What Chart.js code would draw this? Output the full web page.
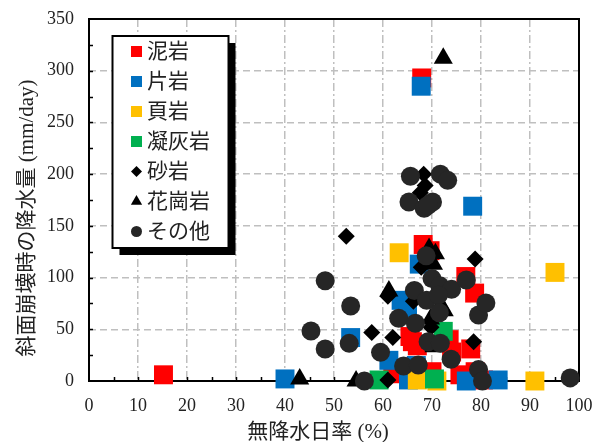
<!DOCTYPE html>
<html>
<head>
<meta charset="utf-8">
<script src="https://cdn.jsdelivr.net/npm/chart.js@4"></script>
<style>
  body { margin: 0; background: #fff; }
  #wrap { width: 601px; height: 442px; }
</style>
</head>
<body>
<div id="wrap"><canvas id="myChart" width="601" height="442"></canvas></div>
<script>
// rock types and their points [無降水日率 %, 降水量 mm/day]
const rockNames = ['泥岩', '片岩', '頁岩', '凝灰岩', '砂岩', '花崗岩', 'その他'];

const mudstone = [
  [15.2, 6], [67.9, 293], [68.2, 132], [69.6, 126], [76.9, 101], [78.7, 85],
  [77.9, 31], [65.5, 43], [67, 34], [66, 38], [73.5, 40], [74, 28],
  [75.7, 6], [78.8, 9], [70, 9], [62, 7], [80.5, 1]
];
const schist = [
  [40, 2], [67.8, 285], [78.3, 169], [67.4, 113], [63.7, 78], [65, 71],
  [53.4, 42], [61.2, 20], [66.8, 15], [65.2, 1], [77, 0], [83.5, 1]
];
const shale = [[63.3, 124], [95.1, 105], [91, 0], [67, 1], [71, 0]];
const tuff = [[59.2, 1], [70.5, 2], [72.3, 48]];
const sandstone = [
  [52.5, 140], [68.3, 200], [67.6, 182], [68.6, 189], [78.8, 118], [67.8, 110],
  [57.7, 47], [62, 42], [61, 1], [78.5, 38], [61, 82], [69.8, 52], [66.2, 77]
];
const granite = [
  [72.3, 312], [43, 2], [54.5, 0], [61.2, 87], [69.4, 128], [70.7, 123],
  [70.3, 113], [71.8, 73], [72.5, 68], [69.7, 60], [70.4, 33]
];
const others = [
  [65.6, 198], [71.7, 200], [73.2, 194], [65.3, 173], [68.4, 167], [70.1, 173],
  [69.2, 170], [68.8, 121], [48.2, 97], [53.4, 72.5], [45.3, 48.3], [48.2, 31],
  [53.1, 36.4], [59.5, 27.7], [63.2, 60.6], [66.4, 87.5], [66.6, 55.8], [70, 99],
  [71.6, 92], [74, 88.6], [77, 97.6], [68.9, 78], [71.3, 83], [71.5, 66],
  [79.5, 63.8], [81, 75.5], [69.2, 38], [71.7, 36.5], [73.9, 21], [64.2, 14.5],
  [67.2, 15.5], [79.5, 11], [80.3, 0], [56.2, 0], [98.2, 3]
];

const xTicks = [0, 10, 20, 30, 40, 50, 60, 70, 80, 90, 100];
const yTicks = [0, 50, 100, 150, 200, 250, 300, 350];

const seriesData = [mudstone, schist, shale, tuff, sandstone, granite, others];
const colors = ['#ff0000', '#0070c0', '#ffc000', '#00b050', '#000000', '#000000', '#262626'];
const styles = ['rect', 'rect', 'rect', 'rect', 'rectRot', 'triangle', 'circle'];
const radii = [13.4, 13.4, 13.4, 13.4, 8.5, 11, 9.5];
const legendRadii = [7.8, 7.8, 7.8, 7.8, 5.5, 6.5, 5.5];

const numFont = '"Liberation Serif", "Noto Sans CJK JP", serif';

const toPts = arr => arr.map(p => ({ x: p[0], y: p[1] }));

const datasets = seriesData.map((d, i) => ({
  label: rockNames[i],
  data: toPts(d),
  pointStyle: styles[i],
  pointRadius: radii[i],
  pointHoverRadius: radii[i],
  backgroundColor: colors[i],
  borderColor: colors[i],
  borderWidth: 0,
  clip: false,
  order: seriesData.length - i   // later series on top, like the original
}));

const framePlugin = {
  id: 'frame',
  beforeDatasetsDraw(chart) {
    const { ctx, chartArea: a, scales: { x, y } } = chart;
    ctx.save();
    ctx.strokeStyle = '#000';
    ctx.lineWidth = 1.5;
    ctx.beginPath();
    for (let v = 5; v < 100; v += 5) {
      const px = Math.round(x.getPixelForValue(v)) + 0.5;
      ctx.moveTo(px, a.bottom);
      ctx.lineTo(px, a.bottom - 4);
    }
    for (let v = 25; v < 350; v += 25) {
      const py = Math.round(y.getPixelForValue(v)) + 0.5;
      ctx.moveTo(a.left, py);
      ctx.lineTo(a.left + 4, py);
    }
    ctx.stroke();
    ctx.lineWidth = 2;
    ctx.strokeRect(a.left, a.top, a.right - a.left, a.bottom - a.top);
    ctx.restore();
  },
  afterDraw(chart) {
    const { ctx } = chart;
    ctx.save();
    ctx.fillStyle = '#222';
    ctx.font = '21px ' + numFont;
    ctx.textAlign = 'center';
    ctx.textBaseline = 'middle';
    ctx.fillText('無降水日率 (%)', 318, 432);
    ctx.translate(27, 218);
    ctx.rotate(-Math.PI / 2);
    ctx.fillText('斜面崩壊時の降水量 (mm/day)', 0, 0);
    ctx.restore();

    // legend box with shadow
    const bx = 112.5, by = 36, bw = 116, bh = 212;
    ctx.save();
    ctx.fillStyle = '#000';
    ctx.fillRect(bx + 7, by + 7, bw, bh);
    ctx.fillStyle = '#fff';
    ctx.fillRect(bx, by, bw, bh);
    ctx.strokeStyle = '#000';
    ctx.lineWidth = 2;
    ctx.strokeRect(bx, by, bw, bh);
    ctx.font = '21px ' + numFont;
    ctx.textAlign = 'left';
    ctx.textBaseline = 'middle';
    chart.data.datasets.forEach((ds, i) => {
      const ly = 51.5 + i * 30;
      ctx.fillStyle = colors[i];
      Chart.helpers.drawPoint(ctx, {
        pointStyle: styles[i], radius: legendRadii[i], rotation: 0, borderWidth: 0
      }, 136.5, ly);
      ctx.fillStyle = '#222';
      ctx.fillText(ds.label, 147, ly + 1);
    });
    ctx.restore();
  }
};

const chart = new Chart(document.getElementById('myChart'), {
  type: 'scatter',
  data: { datasets },
  options: {
    responsive: false,
    animation: false,
    events: [],
    layout: { padding: { left: 0, right: 22, top: 19, bottom: 0 } },
    plugins: { legend: { display: false }, tooltip: { enabled: false } },
    scales: {
      x: {
        type: 'linear', min: 0, max: 100,
        afterFit: s => { s.height = 61; s.paddingLeft = 0; s.paddingRight = 0; },
        afterBuildTicks: s => { s.ticks = xTicks.map(v => ({ value: v })); },
        ticks: { color: '#222', font: { family: numFont, size: 18 }, padding: 14, maxRotation: 0, minRotation: 0 },
        grid: {
          drawTicks: false, lineWidth: 1.5,
          color: c => (c.tick && (c.tick.value === 0 || c.tick.value === 100)) ? 'rgba(0,0,0,0)' : '#bfbfbf'
        },
        border: { display: false, dash: [8, 3, 2, 3] }
      },
      y: {
        type: 'linear', min: 0, max: 350,
        afterFit: s => { s.width = 89; s.paddingTop = 0; s.paddingBottom = 0; },
        afterBuildTicks: s => { s.ticks = yTicks.map(v => ({ value: v })); },
        ticks: { color: '#222', font: { family: numFont, size: 18 }, padding: 15 },
        grid: {
          drawTicks: false, lineWidth: 1.5,
          color: c => (c.tick && (c.tick.value === 0 || c.tick.value === 350)) ? 'rgba(0,0,0,0)' : '#bfbfbf'
        },
        border: { display: false, dash: [7, 4] }
      }
    }
  },
  plugins: [framePlugin]
});
</script>
</body>
</html>
